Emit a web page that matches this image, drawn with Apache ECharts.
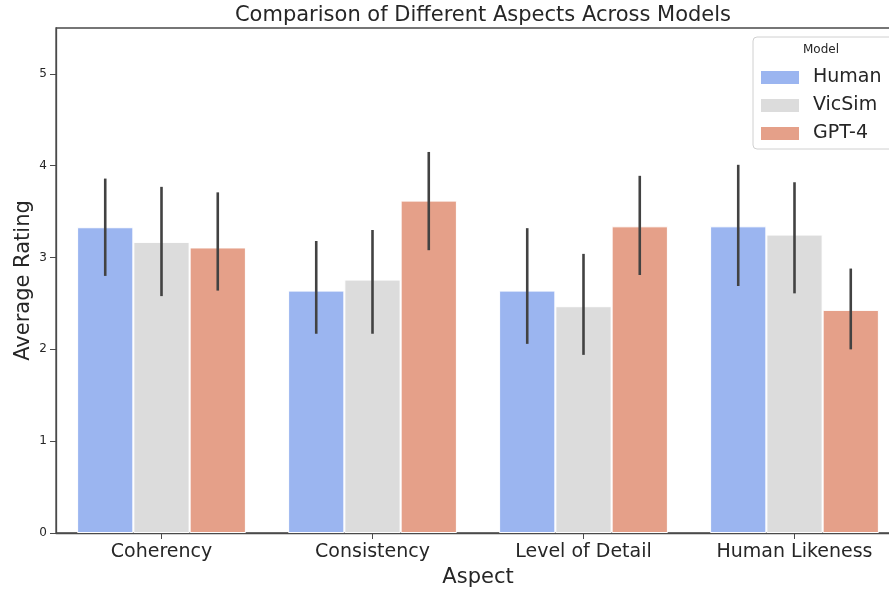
<!DOCTYPE html>
<html>
<head>
<meta charset="utf-8">
<script src="https://cdn.jsdelivr.net/npm/echarts@6/dist/echarts.min.js"></script>
<style>html,body{margin:0;padding:0;background:#fff}#c{width:889px;height:590px}</style>
</head>
<body>
<div id="c"></div>
<script>
var categories = ['Coherency', 'Consistency', 'Level of Detail', 'Human Likeness'];
var models = ['Human', 'VicSim', 'GPT-4'];
var humanMean = [3.33, 2.64, 2.64, 3.34];
var vicsimMean = [3.17, 2.76, 2.47, 3.25];
var gpt4Mean = [3.11, 3.62, 3.34, 2.43];
var humanLow = [2.80, 2.17, 2.06, 2.69];
var humanHigh = [3.86, 3.18, 3.32, 4.01];
var vicsimLow = [2.58, 2.17, 1.94, 2.61];
var vicsimHigh = [3.77, 3.30, 3.04, 3.82];
var gpt4Low = [2.64, 3.08, 2.81, 2.00];
var gpt4High = [3.71, 4.15, 3.89, 2.88];
var yTicks = [0, 1, 2, 3, 4, 5];

var colors = ['#9bb5f0', '#dcdcdc', '#e5a089'];
var means = [humanMean, vicsimMean, gpt4Mean];
var lows = [humanLow, vicsimLow, gpt4Low];
var highs = [humanHigh, vicsimHigh, gpt4High];
var FONT = 'DejaVu Sans';
var AX = '#4a4a4a';

var series = [];
models.forEach(function (m, i) {
  series.push({
    name: m, type: 'bar', data: means[i], barGap: '0%', barCategoryGap: '20%',
    itemStyle: { color: colors[i], borderColor: '#ffffff', borderWidth: 1 },
    z: 2
  });
});
models.forEach(function (m, i) {
  series.push({
    type: 'custom', name: m + ' err',
    data: categories.map(function (c, k) { return [k, lows[i][k], highs[i][k]]; }),
    encode: { x: 0, y: [1, 2] },
    renderItem: function (params, api) {
      var k = api.value(0);
      var p1 = api.coord([k, api.value(1)]);
      var p2 = api.coord([k, api.value(2)]);
      var bw = api.size([1, 0])[0] * 0.8 / 3;
      var x = p1[0] + (i - 1) * bw;
      return { type: 'line', shape: { x1: x, y1: p1[1], x2: x, y2: p2[1] },
        style: { stroke: '#424242', lineWidth: 2.6 } };
    },
    z: 5, silent: true
  });
});

var chart = echarts.init(document.getElementById('c'));
chart.setOption({
  animation: false,
  textStyle: { fontFamily: FONT },
  title: { text: 'Comparison of Different Aspects Across Models', left: 478, textAlign: 'center', top: 0,
    textStyle: { fontFamily: FONT, fontSize: 21, fontWeight: 'normal', color: '#262626' } },
  grid: { left: 56, top: 28, width: 844, height: 505, outerBoundsMode: 'none', containLabel: false,
    show: true, borderColor: AX, borderWidth: 1.3, backgroundColor: 'transparent' },
  legend: {
    data: models, orient: 'vertical', left: 753, top: 37, icon: 'rect',
    padding: [31, 30, 6, 8], itemWidth: 38, itemHeight: 13, itemGap: 9,
    backgroundColor: '#ffffff', borderColor: '#d0d0d0', borderWidth: 1, borderRadius: 4,
    textStyle: { fontFamily: FONT, fontSize: 19, color: '#262626', padding: [0, 0, 0, 9] },
    itemStyle: { borderWidth: 0 }
  },
  graphic: [{ type: 'text', left: 803, top: 44, z: 100,
    style: { text: 'Model', fontFamily: FONT, fontSize: 12, fill: '#262626' } }],
  xAxis: {
    type: 'category', data: categories,
    name: 'Aspect', nameLocation: 'middle', nameGap: 34, nameMoveOverlap: false,
    nameTextStyle: { fontFamily: FONT, fontSize: 21, color: '#262626' },
    axisLine: { lineStyle: { color: AX, width: 1.3 } },
    axisTick: { show: true, alignWithLabel: true, length: 6, lineStyle: { color: AX } },
    axisLabel: { fontFamily: FONT, fontSize: 19, color: '#262626', margin: 10 }
  },
  yAxis: {
    type: 'value', min: 0, max: 5.5, interval: 1,
    name: 'Average Rating', nameLocation: 'middle', nameGap: 22, nameMoveOverlap: false,
    nameTextStyle: { fontFamily: FONT, fontSize: 21, color: '#262626' },
    splitLine: { show: false },
    axisLine: { show: true, lineStyle: { color: AX, width: 1.3 } },
    axisTick: { show: true, length: 6, customValues: yTicks, lineStyle: { color: AX } },
    axisLabel: { fontFamily: FONT, fontSize: 12, color: '#262626', margin: 9, customValues: yTicks }
  },
  series: series
});
</script>
</body>
</html>
